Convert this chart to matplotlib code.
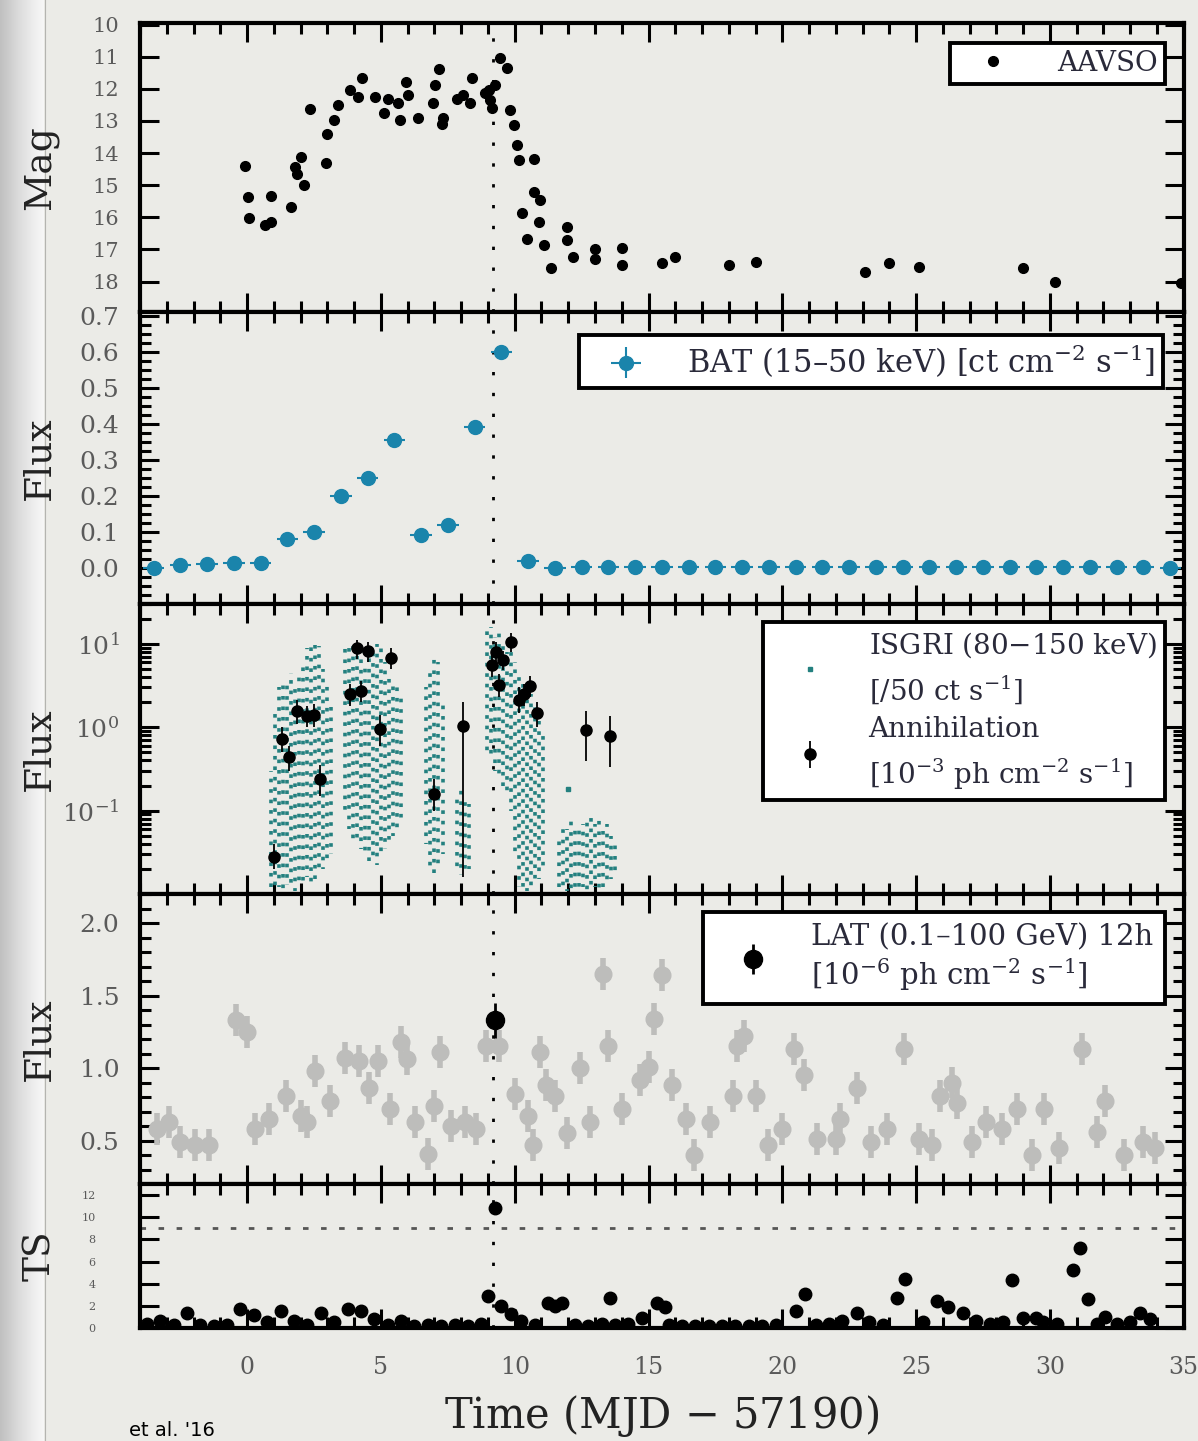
import numpy as np
import matplotlib.pyplot as plt
from matplotlib.ticker import MultipleLocator, LogLocator, NullFormatter, FixedLocator
from matplotlib.lines import Line2D

plt.rcParams['font.family'] = ['DejaVu Serif']
plt.rcParams['mathtext.fontset'] = 'dejavuserif'

# ---- AAVSO optical magnitudes ----
mag_t = [-0.1, 0.03, 0.88, 0.06, 0.65, 0.9, 1.63, 1.78, 1.88, 2.0, 2.13, 2.36, 2.94, 3.0,
         3.26, 3.38, 3.86, 4.14, 4.29, 4.76, 5.13, 5.26, 5.64, 5.7, 5.95, 6.02, 6.39, 6.95,
         7.02, 7.18, 7.27, 7.33, 7.83, 8.08, 8.33, 8.4, 8.9, 9.02, 9.08, 9.15, 9.27, 9.46,
         9.71, 9.84, 9.96, 10.09, 10.15, 10.71, 10.71, 10.96, 10.28, 10.9, 10.46, 11.09,
         11.34, 11.97, 11.97, 12.16, 13.0, 13.0, 14.0, 14.0, 15.5, 16.0, 18.0, 19.0, 23.1,
         24.0, 25.1, 29.0, 30.2, 34.9]
mag_val = [14.41, 15.38, 15.33, 16.03, 16.24, 16.14, 15.69, 14.43, 14.64, 14.12, 15.0, 12.64,
           14.32, 13.39, 12.97, 12.5, 12.04, 12.25, 11.67, 12.25, 12.76, 12.3, 12.45, 12.97,
           11.78, 12.19, 12.92, 12.45, 11.88, 11.39, 13.08, 12.92, 12.3, 12.19, 12.45, 11.67,
           12.14, 12.04, 12.35, 12.61, 11.88, 11.05, 11.36, 12.66, 13.13, 13.75, 14.22, 14.17,
           15.2, 15.47, 15.88, 16.14, 16.66, 16.87, 17.59, 16.29, 16.71, 17.25, 17.0, 17.3,
           16.96, 17.49, 17.43, 17.25, 17.49, 17.39, 17.7, 17.43, 17.55, 17.57, 18.0, 18.05]

# ---- Swift/BAT daily flux ----
bat_t = [-3.5, -2.5, -1.5, -0.5, 0.5, 1.5, 2.5, 3.5, 4.5, 5.5, 6.5, 7.5, 8.5, 9.5, 10.5,
         11.5, 12.5, 13.5, 14.5, 15.5, 16.5, 17.5, 18.5, 19.5, 20.5, 21.5, 22.5, 23.5, 24.5,
         25.5, 26.5, 27.5, 28.5, 29.5, 30.5, 31.5, 32.5, 33.5, 34.5]
bat_flux = [0.0, 0.007, 0.01, 0.015, 0.015, 0.08, 0.10, 0.20, 0.25, 0.355, 0.092, 0.12, 0.39,
            0.60, 0.02, 0.0, 0.002, 0.003, 0.002, 0.004, 0.003, 0.002, 0.004, 0.003, 0.002,
            0.003, 0.004, 0.002, 0.003, 0.002, 0.004, 0.003, 0.002, 0.003, 0.004, 0.002,
            0.003, 0.002, 0.0]

# ---- INTEGRAL/ISGRI (column ranges) ----
isgri_t = [0.9, 1.05, 1.2, 1.35, 1.5, 1.65, 1.8, 1.95, 2.1, 2.25, 2.4, 2.55, 2.7, 2.85, 3.0, 3.15,
           3.65, 3.8, 3.95, 4.1, 4.25, 4.4, 4.55, 4.7, 4.85, 5.0, 5.15, 5.3, 5.45, 5.6, 5.75,
           6.7, 6.85, 7.0, 7.15, 7.3, 7.85, 8.0, 8.15, 8.3,
           8.95, 9.1, 9.25, 9.4, 9.55, 9.7, 9.85, 10.0, 10.15, 10.3, 10.45, 10.6, 10.75, 10.9, 11.05,
           11.65, 11.8, 11.95, 12.1, 12.25, 12.4, 12.55, 12.7, 12.85, 13.0, 13.15, 13.3, 13.45,
           13.6, 13.75]
isgri_lo = [0.012, 0.011, 0.012, 0.011, 0.013, 0.012, 0.011, 0.014, 0.012, 0.016, 0.013, 0.015,
            0.018, 0.02, 0.025, 0.03,
            0.09, 0.06, 0.045, 0.04, 0.035, 0.03, 0.025, 0.025, 0.022, 0.03, 0.035, 0.04, 0.05,
            0.06, 0.07,
            0.04, 0.02, 0.018, 0.02, 0.03, 0.02, 0.017, 0.018, 0.02,
            0.5, 0.4, 0.3, 0.25, 0.2, 0.15, 0.1, 0.03, 0.012, 0.011, 0.011, 0.012, 0.013, 0.015,
            0.02,
            0.012, 0.011, 0.011, 0.011, 0.010, 0.011, 0.012, 0.011, 0.011, 0.012, 0.011, 0.012,
            0.013, 0.015, 0.018]
isgri_hi = [0.3, 1.5, 3.0, 3.4, 3.2, 4.5, 3.0, 4.0, 6.0, 9.0, 10.5, 11.0, 9.5, 5.0, 3.5, 2.0,
            9.0, 9.5, 10.0, 10.5, 8.0, 6.0, 7.0, 8.0, 10.0, 9.5, 6.0, 4.0, 3.5, 3.0, 2.5,
            3.0, 5.0, 7.0, 6.0, 2.0, 0.15, 0.2, 0.14, 0.12,
            15.0, 16.0, 12.0, 14.0, 10.0, 8.0, 12.0, 6.0, 4.0, 3.5, 3.0, 2.5, 2.0, 1.2, 0.8,
            0.05, 0.07, 0.06, 0.08, 0.07, 0.06, 0.07, 0.08, 0.09, 0.07, 0.08, 0.06, 0.07, 0.05,
            0.04]
isgri_single_t = [12.0]
isgri_single_f = [0.18]

# ---- SPI 511 keV annihilation flux ----
ann_t = [1.0, 1.29, 1.58, 1.87, 2.23, 2.5, 2.72, 3.85, 4.1, 4.24, 4.53, 4.96, 5.39, 6.97, 8.06,
         9.14, 9.3, 9.42, 9.57, 9.86, 10.15, 10.36, 10.58, 10.83, 12.66, 13.56]
ann_f = [0.028, 0.72, 0.44, 1.56, 1.36, 1.39, 0.24, 2.47, 8.9, 2.7, 8.1, 0.96, 6.75, 0.16, 1.04,
         5.6, 8.0, 3.25, 6.4, 10.6, 2.15, 2.47, 3.1, 1.47, 0.92, 0.78]
ann_lo = [0.02, 0.5, 0.3, 1.1, 1.0, 1.0, 0.15, 1.8, 6.5, 2.0, 6.0, 0.6, 5.0, 0.1, 0.016,
          4.0, 6.0, 2.3, 4.8, 8.0, 1.5, 1.8, 2.3, 1.0, 0.39, 0.33]
ann_hi = [0.04, 1.0, 0.6, 2.1, 1.8, 1.9, 0.35, 3.3, 11.0, 3.6, 10.5, 1.4, 9.0, 0.24, 2.0,
          7.5, 10.5, 4.3, 8.3, 13.5, 3.0, 3.3, 4.1, 2.0, 1.55, 1.35]

# ---- Fermi/LAT 12h light curve ----
lat_t = [-3.37, -2.94, -2.5, -1.94, -1.43, -0.42, 0.0, 0.29, 0.8, 1.44, 2.02, 2.23, 2.52, 3.1,
         3.67, 4.18, 4.54, 4.9, 5.33, 5.76, 5.98, 6.26, 6.77, 6.98, 7.2, 7.63, 8.13, 8.57, 8.92,
         9.43, 10.0, 10.51, 10.7, 10.94, 11.15, 11.5, 11.95, 12.45, 12.8, 13.3, 13.5, 14.0,
         14.7, 15.0, 15.2, 15.5, 15.86, 16.4, 16.7, 17.3, 18.16, 18.3, 18.58, 19.02, 19.45,
         20.0, 20.45, 20.8, 21.3, 22.0, 22.17, 22.8, 23.3, 23.9, 24.54, 25.1, 25.6, 25.9,
         26.33, 26.54, 27.1, 27.6, 28.2, 28.77, 29.33, 29.77, 30.34, 31.2, 31.78, 32.06, 32.78,
         33.5, 33.92]
lat_flux = [0.58, 0.63, 0.49, 0.47, 0.47, 1.33, 1.25, 0.58, 0.65, 0.81, 0.67, 0.63, 0.98, 0.77,
            1.07, 1.05, 0.86, 1.05, 0.72, 1.18, 1.06, 0.63, 0.41, 0.74, 1.11, 0.60, 0.63, 0.58,
            1.15, 1.15, 0.82, 0.67, 0.47, 1.11, 0.88, 0.81, 0.55, 1.00, 0.63, 1.65, 1.15, 0.72,
            0.92, 1.01, 1.34, 1.64, 0.88, 0.65, 0.40, 0.63, 0.81, 1.15, 1.22, 0.81, 0.47,
            0.58, 1.13, 0.95, 0.51, 0.51, 0.65, 0.86, 0.49, 0.58, 1.13, 0.51, 0.47, 0.81,
            0.90, 0.76, 0.49, 0.63, 0.58, 0.72, 0.40, 0.72, 0.45, 1.13, 0.56, 0.77, 0.40,
            0.49, 0.45]
lat_det_t = [9.28]
lat_det_f = [1.33]

# ---- LAT test statistic ----
ts_t = [-3.75, -3.25, -2.75, -2.25, -1.75, -1.25, -0.75, -0.25, 0.25, 0.75, 1.25, 1.75, 2.25,
        2.75, 3.25, 3.75, 4.25, 4.75, 5.25, 5.75, 6.25, 6.75, 7.25, 7.75, 8.25, 8.75, 9.0, 9.28,
        9.5, 9.85, 10.25, 10.75, 11.25, 11.5, 11.75, 12.25, 12.75, 13.25, 13.55, 13.75, 14.25,
        14.75, 15.3, 15.6, 15.75, 16.25, 16.75, 17.25, 17.75, 18.25, 18.75, 19.25, 19.75, 20.5,
        20.85, 21.25, 21.75, 22.25, 22.8, 23.25, 23.75, 24.3, 24.6, 25.25, 25.8, 26.2, 26.75,
        27.25, 27.75, 28.25, 28.6, 29.0, 29.5, 29.75, 30.25, 30.85, 31.13, 31.42, 31.75, 32.06,
        32.5, 33.0, 33.36, 33.75]
ts_val = [0.4, 0.6, 0.3, 1.4, 0.3, 0.2, 0.3, 1.7, 1.2, 0.5, 1.5, 0.6, 0.3, 1.4, 0.5, 1.7, 1.5,
          0.8, 0.3, 0.6, 0.2, 0.3, 0.2, 0.3, 0.2, 0.4, 2.9, 10.8, 2.0, 1.3, 0.6, 0.3, 2.3, 2.0,
          2.3, 0.3, 0.2, 0.4, 2.75, 0.3, 0.4, 0.9, 2.3, 1.9, 0.3, 0.2, 0.2, 0.2, 0.2, 0.2, 0.2,
          0.2, 0.3, 1.5, 3.1, 0.3, 0.4, 0.6, 1.4, 0.5, 0.3, 2.75, 4.45, 0.5, 2.45, 1.9, 1.4, 0.6,
          0.4, 0.5, 4.3, 0.9, 0.9, 0.5, 0.4, 5.2, 7.2, 2.6, 0.4, 1.0, 0.4, 0.5, 1.4, 0.8]
ts_threshold = 9
t_peak = 9.2

paper = '#ebebe7'
bat_col = '#1a84ab'
isgri_col = '#23807f'
lat_grey = '#bdbdbb'
tick_col = '#5a5a5a'
label_col = '#222222'

fig = plt.figure(figsize=(11.98, 14.41), dpi=100, facecolor=paper)
gs = fig.add_gridspec(5, 1, height_ratios=[289, 292, 290, 290, 144], hspace=0,
                      left=0.117, right=0.988, top=0.984, bottom=0.0784)
axes = [fig.add_subplot(gs[i]) for i in range(5)]

# shaded page edge on the left, kept behind everything else
edge = fig.add_axes([0, 0, 0.036, 1], zorder=-10)
edge.imshow(np.linspace(0, 1, 50)[None, :], aspect='auto', cmap='Greys_r',
            vmin=-2.2, vmax=1.25, extent=[0, 1, 0, 1])
edge.axis('off')
fig.add_artist(Line2D([0.0376, 0.0376], [0, 1], color='#b4b4b0', lw=0.8, zorder=-5))


def style(ax, last=False):
    ax.set_facecolor(paper)
    ax.set_xlim(-4, 35)
    ax.xaxis.set_major_locator(MultipleLocator(5))
    ax.xaxis.set_minor_locator(MultipleLocator(1))
    ax.tick_params(which='both', direction='in', top=True, right=True, width=2.2,
                   colors='k', labelcolor=tick_col, labelsize=18, pad=15)
    ax.tick_params(which='major', length=14)
    ax.tick_params(which='minor', length=8)
    ax.tick_params(axis='x', labelbottom=last, labelsize=17, pad=20)
    for s in ax.spines.values():
        s.set_linewidth(3)
    ax.axvline(t_peak, color='k', ls=(0, (1.2, 6.3)), lw=2, zorder=1)


def legend(ax, handles, labels, anchor, fs=20, **kw):
    opts = dict(loc='upper right', bbox_to_anchor=anchor, fancybox=False, framealpha=1,
                edgecolor='k', fontsize=fs, borderpad=0.3, handletextpad=0.7,
                borderaxespad=0)
    opts.update(kw)
    leg = ax.legend(handles, labels, **opts)
    leg.get_frame().set_linewidth(2.8)
    for txt in leg.get_texts():
        txt.set_color('#2a2a3a')
    return leg


# Mag
ax = axes[0]
style(ax)
h1, = ax.plot(mag_t, mag_val, 'o', color='k', ms=7, zorder=3)
ax.set_ylim(18.95, 9.95)
ax.yaxis.set_major_locator(MultipleLocator(1))
ax.tick_params(axis='y', labelsize=15)
ax.set_ylabel('Mag', fontsize=27, color=label_col)
legend(ax, [h1], ['AAVSO'], (0.982, 0.931), handlelength=2.6, handletextpad=1.0,
       borderpad=0.25)

# BAT
ax = axes[1]
style(ax)
h2 = ax.errorbar(bat_t, bat_flux, xerr=0.4, yerr=0.012, fmt='o', ms=10, color=bat_col,
                 elinewidth=1.5, capsize=0, zorder=3)
ax.set_ylim(-0.1, 0.71)
ax.yaxis.set_major_locator(FixedLocator([0.0, 0.1, 0.2, 0.3, 0.4, 0.5, 0.6, 0.7]))
ax.yaxis.set_minor_locator(MultipleLocator(0.025))
ax.yaxis.set_major_formatter(lambda v, p: f'{v:.1f}')
ax.set_ylabel('Flux', fontsize=27, color=label_col)
legend(ax, [h2], [r'BAT (15–50 keV) [ct cm$^{-2}$ s$^{-1}$]'], (0.980, 0.921),
       fs=22, handlelength=2.6, borderpad=0.25)

# ISGRI + annihilation
ax = axes[2]
style(ax)
ax.set_yscale('log')
phase = [0.0, 1.3, 0.5, 2.1, 0.9, 1.7, 0.2, 2.4, 1.1, 0.7, 1.9]
dash_styles = [(phase[i % len(phase)], (1.0, 1.9)) for i in range(len(isgri_t))]
ax.vlines(isgri_t, isgri_lo, isgri_hi, colors=isgri_col, lw=2.6,
          linestyles=dash_styles, zorder=2)
ax.plot(isgri_single_t, isgri_single_f, 's', color=isgri_col, ms=3, zorder=2)
ann_err = [np.array(ann_f) - np.array(ann_lo), np.array(ann_hi) - np.array(ann_f)]
h3b = ax.errorbar(ann_t, ann_f, yerr=ann_err, fmt='o', ms=8, color='k', elinewidth=1.3,
                  capsize=0, zorder=4)
ax.set_ylim(0.01, 30)
ax.yaxis.set_major_locator(FixedLocator([0.1, 1, 10]))
ax.yaxis.set_minor_locator(LogLocator(base=10, subs=np.arange(2, 10), numticks=10))
ax.yaxis.set_minor_formatter(NullFormatter())
ax.set_ylabel('Flux', fontsize=27, color=label_col)
h3a = Line2D([], [], ls='none', marker='s', ms=2.5, color=isgri_col)
leg = legend(ax, [h3a, h3b], ['ISGRI (80$-$150 keV)\n[/50 ct s$^{-1}$]',
                              'Annihilation\n[10$^{-3}$ ph cm$^{-2}$ s$^{-1}$]'],
             (0.982, 0.938), fs=20, handlelength=2.8, labelspacing=0.35)
for txt in leg.get_texts():
    txt.set_linespacing(1.5)

# LAT flux
ax = axes[3]
style(ax)
ax.errorbar(lat_t, lat_flux, xerr=0.28, yerr=0.11, fmt='o', ms=12, color=lat_grey,
            elinewidth=4, capsize=0, zorder=2)
h4 = ax.errorbar(lat_det_t, lat_det_f, yerr=0.12, fmt='o', ms=13, color='k',
                 elinewidth=2, capsize=0, zorder=4)
ax.set_ylim(0.2, 2.2)
ax.yaxis.set_major_locator(MultipleLocator(0.5))
ax.yaxis.set_minor_locator(MultipleLocator(0.1))
ax.yaxis.set_major_formatter(lambda v, p: f'{v:.1f}')
ax.set_ylabel('Flux', fontsize=27, color=label_col)
leg = legend(ax, [h4], ['LAT (0.1–100 GeV) 12h\n[10$^{-6}$ ph cm$^{-2}$ s$^{-1}$]'],
             (0.982, 0.938), fs=21, handlelength=2.6, borderpad=0.4)
for txt in leg.get_texts():
    txt.set_linespacing(1.15)

# TS
ax = axes[4]
style(ax, last=True)
ax.plot(ts_t, ts_val, 'o', color='k', ms=9, zorder=3)
ax.axhline(ts_threshold, color='#555555', ls=(0, (2, 4.5)), lw=2, zorder=1)
ax.set_ylim(0, 13)
ax.yaxis.set_major_locator(MultipleLocator(2))
ax.tick_params(axis='y', labelsize=8, pad=32)
ax.set_ylabel('TS', fontsize=27, color=label_col)
ax.set_xlabel(r'Time (MJD $-$ 57190)', fontsize=30, color=label_col, labelpad=10)

for ax in axes:
    ax.yaxis.set_label_coords(-0.079, 0.5)

fig.text(0.108, 0.001, "et al. '16", fontsize=14, color='k', family='DejaVu Sans',
         va='bottom')

fig.savefig('out.png', dpi=100, facecolor=paper)
